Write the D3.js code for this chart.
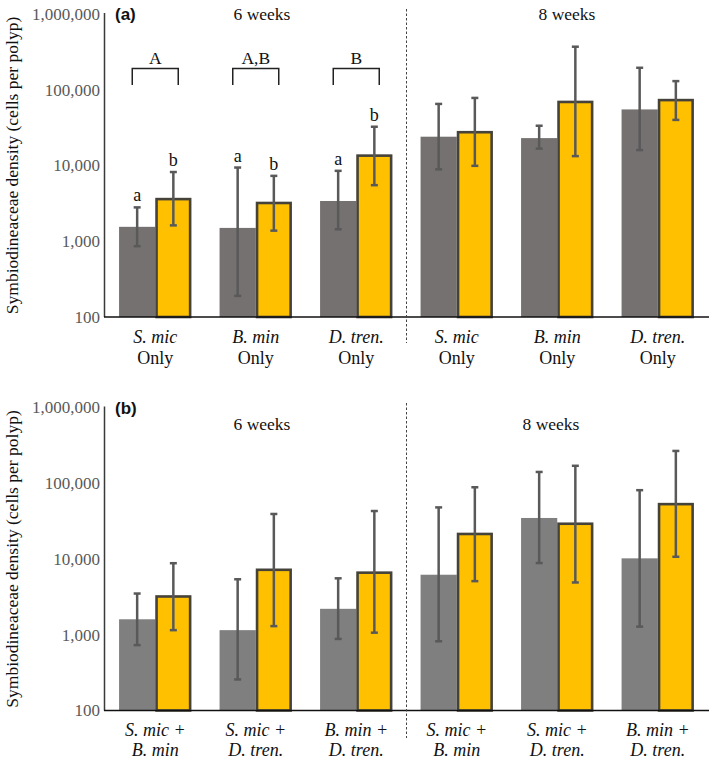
<!DOCTYPE html>
<html><head><meta charset="utf-8">
<script src="https://cdn.jsdelivr.net/npm/d3@7"></script>
<style>body{margin:0;background:#fff}svg{display:block}</style>
</head><body>
<svg id="c" width="709" height="758"></svg>
<script>
// ---- data ----
const groupKeys = ["g1","g2","g3","g4","g5","g6"];
const labelsA1 = ["S. mic","B. min","D. tren.","S. mic","B. min","D. tren."];
const labelsA2 = ["Only","Only","Only","Only","Only","Only"];
const labelsB1 = ["S. mic +","S. mic +","B. min +","S. mic +","S. mic +","B. min +"];
const labelsB2 = ["B. min","D. tren.","D. tren.","B. min","D. tren.","D. tren."];
const yTicks = [100, 1000, 10000, 100000, 1000000];
const periods = ["6 weeks","8 weeks"];

const grayA    = [1550, 1500, 3400, 24000, 23000, 55000];
const grayALo  = [860, 190, 1440, 8900, 16700, 16000];
const grayAHi  = [2800, 9400, 8500, 65000, 33500, 195000];
const orangeA  = [3600, 3200, 13500, 27500, 69000, 73000];
const orangeALo= [1620, 1380, 5500, 9900, 13300, 40000];
const orangeAHi= [8200, 7300, 32500, 78000, 370000, 130000];

const grayB    = [1600, 1150, 2200, 6200, 34800, 10200];
const grayBLo  = [730, 257, 880, 820, 8850, 1280];
const grayBHi  = [3500, 5400, 5560, 48000, 141000, 81000];
const orangeB  = [3200, 7200, 6600, 21400, 29200, 53000];
const orangeBLo= [1150, 1300, 1065, 5100, 4900, 10700];
const orangeBHi= [8800, 39300, 43000, 88500, 170000, 267000];

const lettersGrayA   = ["a","a","a","","",""];
const lettersOrangeA = ["b","b","b","","",""];
const bracketLabelsA = ["A","A,B","B"];

// ---- drawing ----
const svg = d3.select("#c");
const serif = "'Liberation Serif','Times New Roman',Times,serif";
const x = d3.scaleBand().domain(groupKeys).range([105, 708]).paddingInner(0.28).paddingOuter(0.14);
const xs = d3.scaleBand().domain(["gray","orange"]).range([0, x.bandwidth()]);
const fmt = d3.format(",");

function panel(cfg) {
  const y = d3.scaleLog().domain([100, 1000000]).range([cfg.bottom, cfg.top]);
  const g = svg.append("g");

  g.selectAll("text.tick").data(yTicks).join("text")
    .attr("x", 100).attr("y", d => y(d)).attr("dy", "0.35em")
    .attr("text-anchor", "end").attr("font-family", serif).attr("font-size", 17)
    .attr("fill", "#595959").text(d => fmt(d));

  g.append("text")
    .attr("transform", `translate(18,${(cfg.top + cfg.bottom) / 2}) rotate(-90)`)
    .attr("text-anchor", "middle").attr("font-family", serif).attr("font-size", 17.5)
    .attr("fill", "#111").text("Symbiodineaceae density (cells per polyp)");

  const series = [
    {key: "gray", v: cfg.gray, lo: cfg.grayLo, hi: cfg.grayHi},
    {key: "orange", v: cfg.orange, lo: cfg.orangeLo, hi: cfg.orangeHi}
  ];
  series.forEach(s => {
    const data = groupKeys.map((k, i) => ({k, v: s.v[i], lo: s.lo[i], hi: s.hi[i]}));
    const isO = s.key === "orange";
    const sw = isO ? 2.6 : 0;
    g.selectAll(null).data(data).join("rect")
      .attr("x", d => x(d.k) + xs(s.key) + sw / 2)
      .attr("width", xs.bandwidth() - sw)
      .attr("y", d => y(d.v))
      .attr("height", d => y(100) - y(d.v))
      .attr("fill", isO ? "#FFC000" : cfg.grayColor)
      .attr("stroke", isO ? "#45423a" : "none")
      .attr("stroke-width", sw);
  });
  series.forEach(s => {
    const data = groupKeys.map((k, i) => ({k, v: s.v[i], lo: s.lo[i], hi: s.hi[i]}));
    const cx = d => x(d.k) + xs(s.key) + xs.bandwidth() / 2;
    const eg = g.append("g").attr("stroke", "#595959").attr("stroke-width", 2.5);
    eg.selectAll(null).data(data).join("line")
      .attr("x1", cx).attr("x2", cx).attr("y1", d => y(d.lo)).attr("y2", d => y(d.hi));
    ["lo","hi"].forEach(e => {
      eg.selectAll(null).data(data).join("line")
        .attr("x1", d => cx(d) - 3.5).attr("x2", d => cx(d) + 3.5)
        .attr("y1", d => y(d[e])).attr("y2", d => y(d[e]));
    });
  });

  g.append("line").attr("x1", 104.5).attr("x2", 104.5).attr("y1", cfg.top - 1).attr("y2", cfg.bottom)
    .attr("stroke", "#3a3a3a").attr("stroke-width", 1.5);
  g.append("line").attr("x1", 104).attr("x2", 709).attr("y1", cfg.bottom).attr("y2", cfg.bottom)
    .attr("stroke", "#111").attr("stroke-width", 1.5);

  const sepX = x(groupKeys[3]) - x.step() * x.paddingInner() / 2;
  g.append("line").attr("x1", sepX).attr("x2", sepX).attr("y1", cfg.sepTop).attr("y2", cfg.sepBottom)
    .attr("stroke", "#444").attr("stroke-width", 1).attr("stroke-dasharray", "2.5,2");

  g.selectAll(null).data(groupKeys).join("text")
    .attr("x", d => x(d) + x.bandwidth() / 2).attr("y", cfg.lab1Y)
    .attr("text-anchor", "middle").attr("font-family", serif).attr("font-size", 18)
    .attr("font-style", "italic").attr("fill", "#111").text((d, i) => cfg.lab1[i]);
  g.selectAll(null).data(groupKeys).join("text")
    .attr("x", d => x(d) + x.bandwidth() / 2).attr("y", cfg.lab2Y)
    .attr("text-anchor", "middle").attr("font-family", serif).attr("font-size", 18)
    .attr("font-style", cfg.lab2Italic ? "italic" : "normal").attr("fill", "#111").text((d, i) => cfg.lab2[i]);

  g.append("text").attr("x", 115).attr("y", cfg.top + 6)
    .attr("font-family", "'Liberation Sans',Arial,sans-serif").attr("font-weight", "bold")
    .attr("font-size", 17).attr("fill", "#111").text(cfg.tag);

  g.selectAll(null).data(periods).join("text")
    .attr("x", (d, i) => cfg.headX[i]).attr("y", cfg.headY)
    .attr("text-anchor", "middle").attr("font-family", serif).attr("font-size", 17.5)
    .attr("fill", "#111").text(d => d);

  return {g, y};
}

const pa = panel({
  top: 14, bottom: 317, grayColor: "#767171", tag: "(a)",
  gray: grayA, grayLo: grayALo, grayHi: grayAHi,
  orange: orangeA, orangeLo: orangeALo, orangeHi: orangeAHi,
  sepTop: 9, sepBottom: 343, lab1: labelsA1, lab2: labelsA2, lab2Italic: false,
  lab1Y: 343, lab2Y: 364, headX: [262, 567], headY: 20
});
const pb = panel({
  top: 407.5, bottom: 710.5, grayColor: "#7f7f7f", tag: "(b)",
  gray: grayB, grayLo: grayBLo, grayHi: grayBHi,
  orange: orangeB, orangeLo: orangeBLo, orangeHi: orangeBHi,
  sepTop: 403, sepBottom: 738, lab1: labelsB1, lab2: labelsB2, lab2Italic: true,
  lab1Y: 736, lab2Y: 755.5, headX: [262, 551], headY: 430
});

const ya = pa.y;
[["gray", lettersGrayA, grayAHi], ["orange", lettersOrangeA, orangeAHi]].forEach(([k, L, hi]) => {
  pa.g.selectAll(null).data(groupKeys.filter((d, i) => L[i])).join("text")
    .attr("x", d => x(d) + xs(k) + xs.bandwidth() / 2)
    .attr("y", d => ya(hi[groupKeys.indexOf(d)]) - 6)
    .attr("text-anchor", "middle").attr("font-family", serif).attr("font-size", 18)
    .attr("fill", "#111").text(d => L[groupKeys.indexOf(d)]);
});
const bk = groupKeys.slice(0, 3);
pa.g.selectAll(null).data(bk).join("path")
  .attr("d", d => {
    const c = x(d) + x.bandwidth() / 2;
    return `M${c - 23},85 L${c - 23},68.5 L${c + 23},68.5 L${c + 23},85`;
  })
  .attr("fill", "none").attr("stroke", "#222").attr("stroke-width", 1.5);
pa.g.selectAll(null).data(bk).join("text")
  .attr("x", d => x(d) + x.bandwidth() / 2).attr("y", 64)
  .attr("text-anchor", "middle").attr("font-family", serif).attr("font-size", 17.5)
  .attr("fill", "#111").text((d, i) => bracketLabelsA[i]);
</script>
</body></html>
